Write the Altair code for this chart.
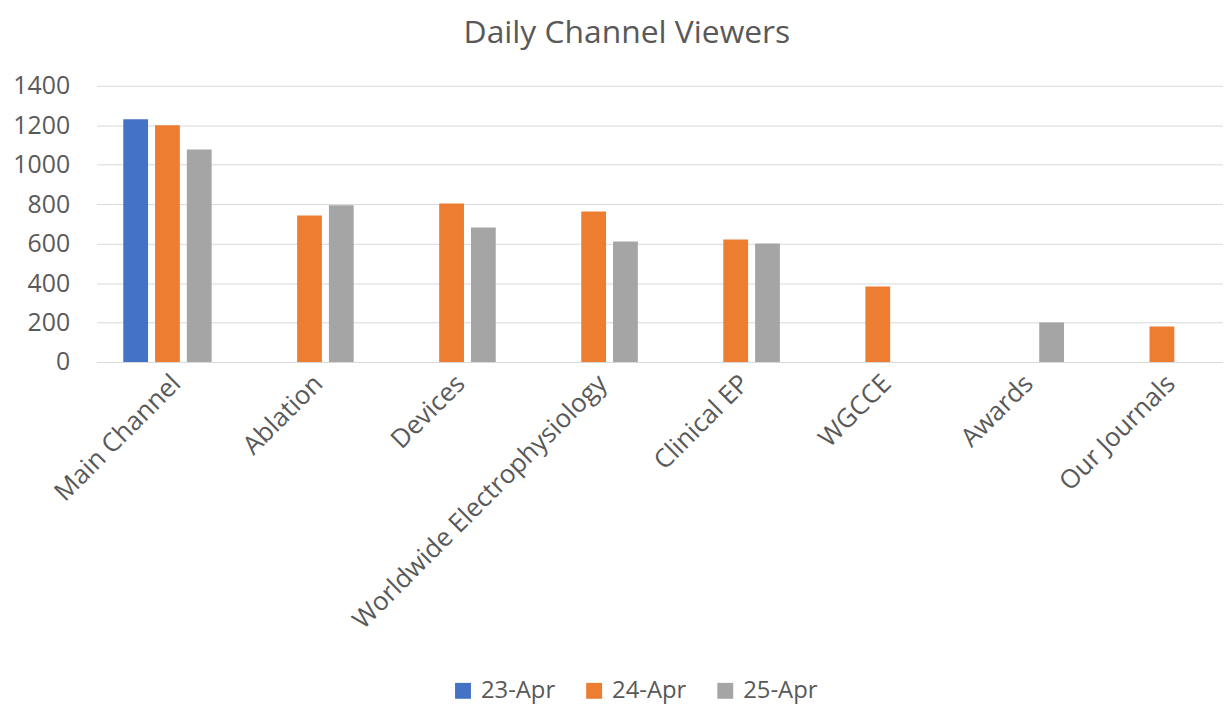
import altair as alt
import pandas as pd

categories = ["Main Channel", "Ablation", "Devices", "Worldwide Electrophysiology",
              "Clinical EP", "WGCCE", "Awards", "Our Journals"]
series = ["23-Apr", "24-Apr", "25-Apr"]
apr23 = [1230, None, None, None, None, None, None, None]
apr24 = [1200, 743, 803, 763, 621, 383, None, 180]
apr25 = [1077, 795, 682, 611, 601, None, 200, None]

rows = []
for s, vals in zip(series, [apr23, apr24, apr25]):
    for c, v in zip(categories, vals):
        if v is not None:
            rows.append({"Channel": c, "Date": s, "Viewers": v})
df = pd.DataFrame(rows)

colors = ["#4472C4", "#ED7D31", "#A5A5A5"]
grey = "#595959"
font = "Open Sans"

chart = alt.Chart(df).mark_bar().encode(
    x=alt.X("Channel:N", sort=categories, title=None,
            scale=alt.Scale(range=[0, 1144], paddingInner=0.378, paddingOuter=0.189),
            axis=alt.Axis(labelAngle=-45, labelFontSize=26, labelColor=grey,
                          labelFont=font, ticks=False, domainColor="#D9D9D9",
                          labelPadding=8, labelLimit=500)),
    xOffset=alt.XOffset("Date:N", sort=series, scale=alt.Scale(paddingInner=0.22)),
    y=alt.Y("Viewers:Q", title=None,
            scale=alt.Scale(domain=[0, 1400]),
            axis=alt.Axis(values=list(range(0, 1401, 200)), format="d", labelFontSize=25,
                          labelColor=grey, labelFont=font, ticks=False,
                          domain=False, gridColor="#D9D9D9", labelPadding=27)),
    color=alt.Color("Date:N", sort=series,
                    scale=alt.Scale(domain=series, range=colors),
                    legend=alt.Legend(orient="none", legendX=357, legendY=597,
                                      direction="horizontal", title=None,
                                      symbolType="square", symbolSize=256,
                                      symbolStrokeWidth=0, labelFontSize=24,
                                      labelColor=grey, labelFont=font,
                                      labelOffset=6, columnPadding=27)),
).properties(
    width=1134, height=278,
    title=alt.TitleParams("Daily Channel Viewers", fontSize=32, color=grey,
                          font=font, fontWeight="normal", offset=24, dx=-33),
    padding={"left": 89, "right": 0, "top": 76, "bottom": 354},
    autosize=alt.AutoSizeParams(type="none"),
).configure_view(stroke=None)

chart.save("out.html", embed_options={"renderer": "svg", "actions": False})
